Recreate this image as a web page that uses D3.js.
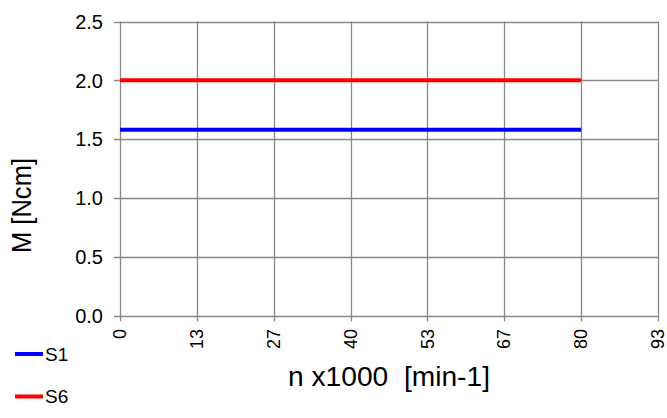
<!DOCTYPE html>
<html><head><meta charset="utf-8">
<script src="https://cdn.jsdelivr.net/npm/d3@7"></script>
<style>body{margin:0;background:#fff}svg{display:block}text{font-family:"Liberation Sans",Arial,sans-serif;fill:#000}</style>
</head><body><svg id="c" width="667" height="418"></svg>
<script>
const xTickValues = [0, 13.333, 26.667, 40, 53.333, 66.667, 80, 93.333];
const xTickLabels = ["0", "13", "27", "40", "53", "67", "80", "93"];
const yTickValues = [0, 0.5, 1.0, 1.5, 2.0, 2.5];
const seriesNames = ["S1", "S6"];
const seriesColors = ["#0000ff", "#ff0000"];
const s1X = [0, 80];
const s1Y = [1.58, 1.58];
const s6X = [0, 80];
const s6Y = [2.0, 2.0];

const svg = d3.select("#c");
const L = 120, R = 658, T = 21.5, B = 315.5;
const x = d3.scaleLinear().domain([0, 93.333]).range([L, R]);
const y = d3.scaleLinear().domain([0, 2.5]).range([B, T]);
const grid = "#898989";

// gridlines
svg.append("g").selectAll("line").data(xTickValues).join("line")
  .attr("x1", d => Math.round(x(d)) + 0.5).attr("x2", d => Math.round(x(d)) + 0.5)
  .attr("y1", T).attr("y2", B + 6).attr("stroke", grid).attr("stroke-width", 1.3);
svg.append("g").selectAll("line").data(yTickValues).join("line")
  .attr("y1", d => Math.round(y(d)) + 0.5).attr("y2", d => Math.round(y(d)) + 0.5)
  .attr("x1", L - 6).attr("x2", R).attr("stroke", grid).attr("stroke-width", 1.3);

// y tick labels
svg.append("g").selectAll("text").data(yTickValues).join("text")
  .attr("x", 103).attr("y", d => y(d)).attr("dy", "0.36em")
  .attr("text-anchor", "end").attr("font-size", 20)
  .text(d => d.toFixed(1));

// x tick labels
svg.append("g").selectAll("text").data(xTickValues).join("text")
  .attr("transform", d => `translate(${x(d)},329) rotate(-90)`)
  .attr("dy", "0.34em").attr("text-anchor", "end").attr("font-size", 18)
  .text((d, i) => xTickLabels[i]);

// series
const line = d3.line().x(d => x(d[0])).y(d => y(d[1]));
const series = [d3.zip(s1X, s1Y), d3.zip(s6X, s6Y)];
series.forEach((s, i) => {
  svg.append("path").attr("d", line(s)).attr("fill", "none")
    .attr("stroke", seriesColors[i]).attr("stroke-width", 4);
});

// axis titles
svg.append("text").attr("transform", "translate(31,205.5) rotate(-90)")
  .attr("text-anchor", "middle").attr("font-size", 27)
  .attr("textLength", 95).attr("lengthAdjust", "spacingAndGlyphs").text("M [Ncm]");
svg.append("text").attr("x", 389).attr("y", 386)
  .attr("text-anchor", "middle").attr("font-size", 27).attr("xml:space", "preserve")
  .attr("textLength", 202).attr("lengthAdjust", "spacingAndGlyphs")
  .text("n x1000  [min-1]");

// legend
seriesNames.forEach((n, i) => {
  const ly = 354 + i * 42.5;
  svg.append("line").attr("x1", 15).attr("x2", 43).attr("y1", ly).attr("y2", ly)
    .attr("stroke", seriesColors[i]).attr("stroke-width", 4);
  svg.append("text").attr("x", 45).attr("y", ly).attr("dy", "0.36em")
    .attr("font-size", 19).text(n);
});
</script></body></html>
